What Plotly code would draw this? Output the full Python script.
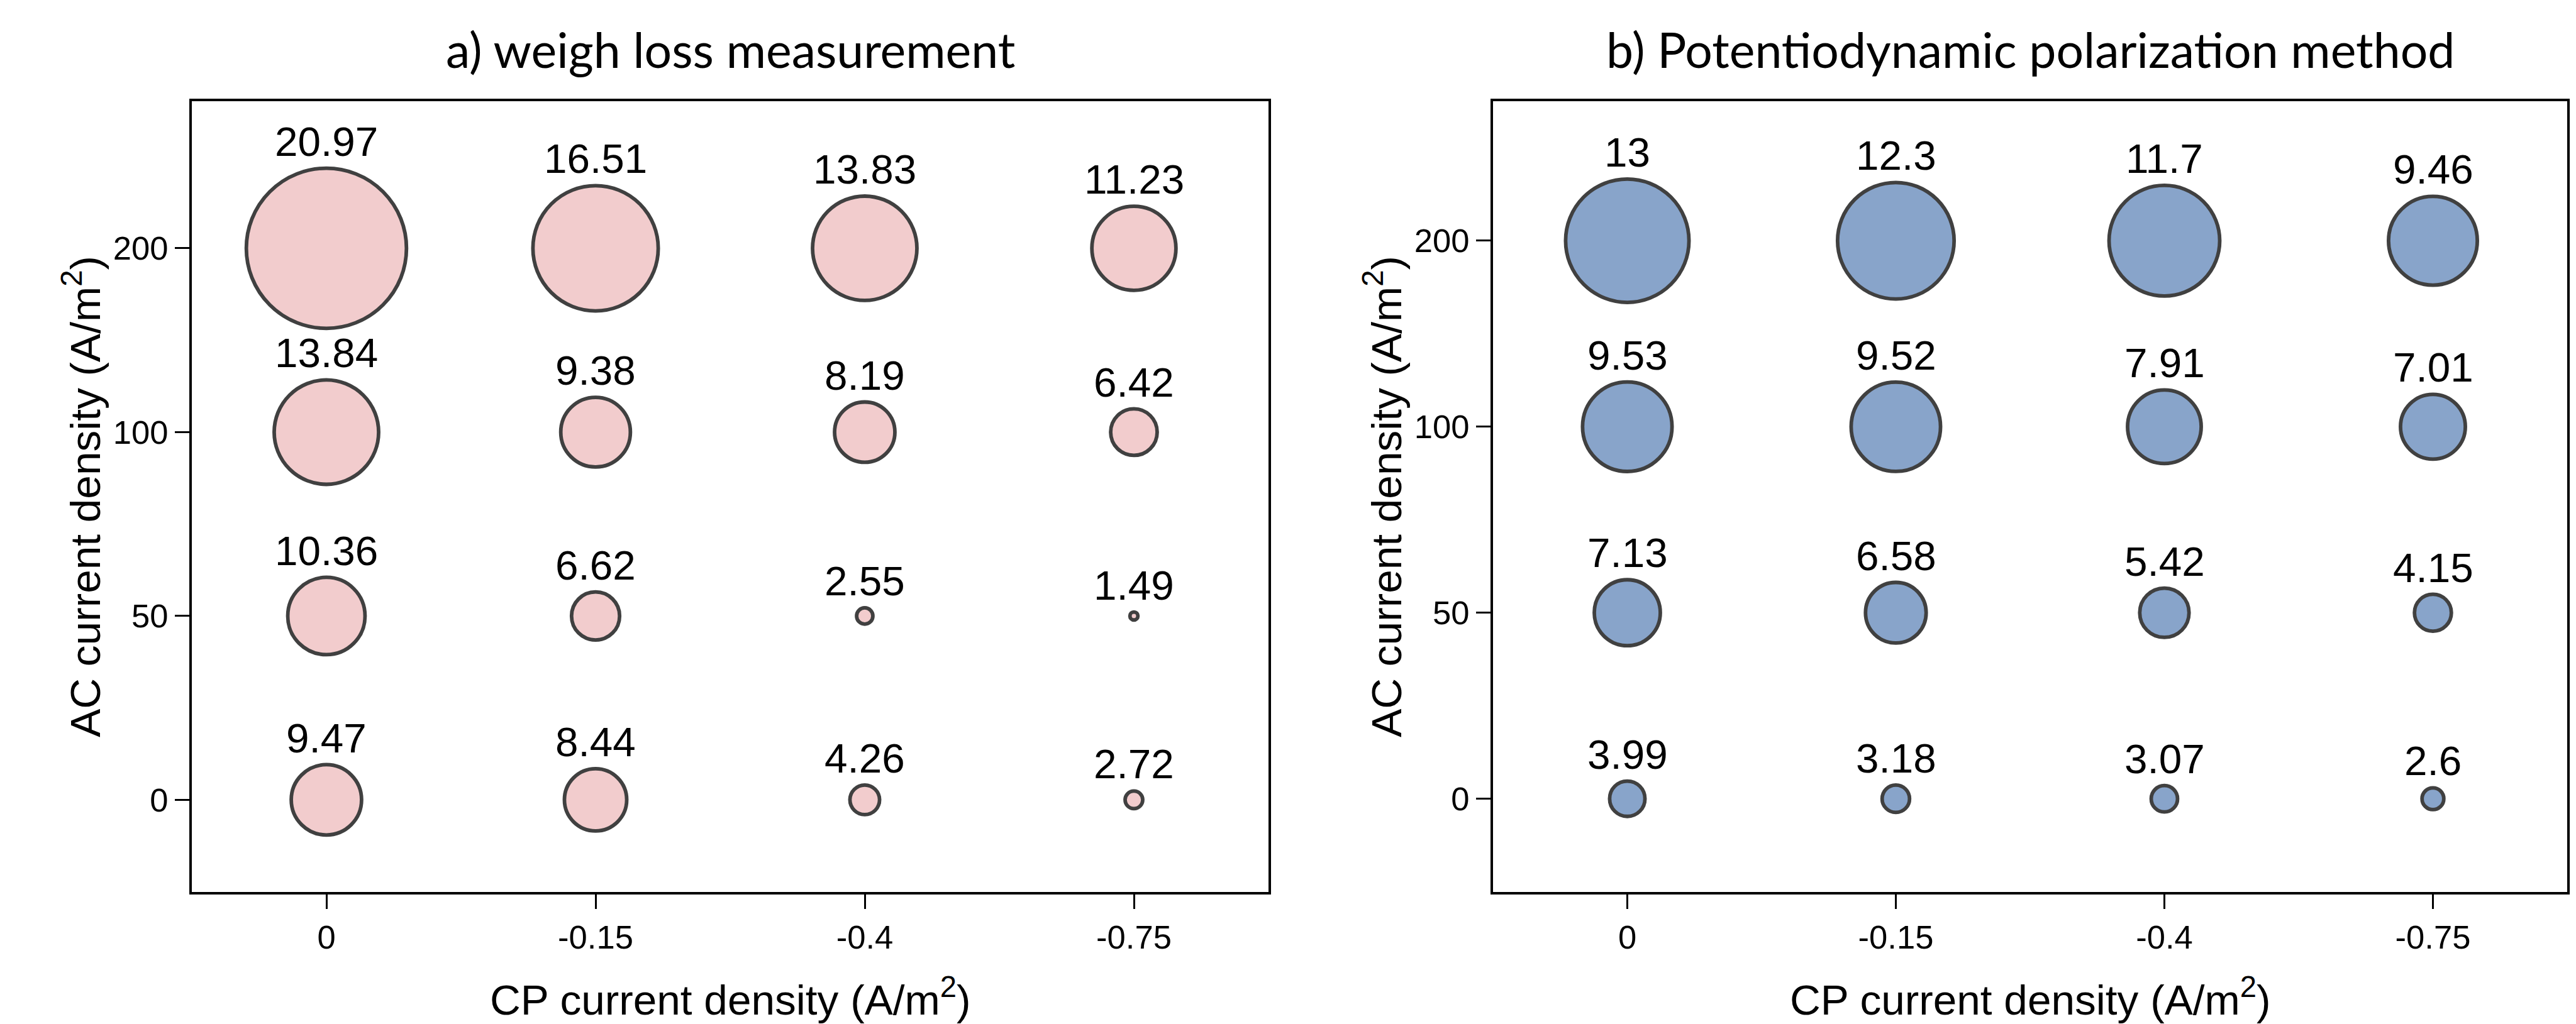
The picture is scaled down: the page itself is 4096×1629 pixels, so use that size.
import plotly.graph_objects as go

# ---- data ----
cp_labels = ["0", "-0.15", "-0.4", "-0.75"]          # CP current density (A/m2)
ac_labels = ["0", "50", "100", "200"]                # AC current density (A/m2)

# rows follow ac_labels order (0, 50, 100, 200); columns follow cp_labels
weight_loss = [
    [9.47, 8.44, 4.26, 2.72],      # AC 0
    [10.36, 6.62, 2.55, 1.49],     # AC 50
    [13.84, 9.38, 8.19, 6.42],     # AC 100
    [20.97, 16.51, 13.83, 11.23],  # AC 200
]
polarization = [
    [3.99, 3.18, 3.07, 2.6],       # AC 0
    [7.13, 6.58, 5.42, 4.15],      # AC 50
    [9.53, 9.52, 7.91, 7.01],      # AC 100
    [13, 12.3, 11.7, 9.46],        # AC 200
]

titles = ["a) weigh loss measurement", "b) Potentiodynamic polarization method"]

# ---- style ----
W, H = 4096, 1629
S = 0.965
LW = 6 * S
LINE_COL = "#404040"
fills = ["#F2CCCD", "#88A4CA"]
px_per_unit = [12.87 * S, 16.1 * S]      # outer diameter per unit value
xdom = [[305 / W, 2017 / W], [2374 / W, 4082 / W]]
ydom = [1 - 1418.6 / H, 1 - 161 / H]
yranges = [[-0.5, 3.8], [-0.5, 3.75]]

TICKFONT = dict(family="Liberation Sans, Arial, sans-serif", size=54.5 * S, color="black")
LABELFONT = dict(family="Liberation Sans, Arial, sans-serif", size=68 * S, color="black")
AXTITLEFONT = dict(family="Liberation Sans, Arial, sans-serif", size=70 * S, color="black")
TITLEFONT = dict(family="Lato, Carlito, Calibri, sans-serif", size=77, color="black")

fig = go.Figure()
annotations = []

for p, data in enumerate([weight_loss, polarization]):
    xs, ys, vals, xi, yi = [], [], [], [], []
    for i, ac in enumerate(ac_labels):
        for j, cp in enumerate(cp_labels):
            xs.append(cp)
            ys.append(ac)
            xi.append(j)
            yi.append(i)
            vals.append(data[i][j])
    sizes = [v * px_per_unit[p] - LW for v in vals]
    xa = "x" if p == 0 else "x2"
    ya = "y" if p == 0 else "y2"
    fig.add_trace(go.Scatter(
        x=xs, y=ys, mode="markers", xaxis=xa, yaxis=ya,
        marker=dict(size=sizes, sizemode="diameter", color=fills[p],
                    line=dict(color=LINE_COL, width=LW), opacity=1),
        showlegend=False, hoverinfo="skip",
    ))
    for x, y, v in zip(xi, yi, vals):
        outer_r = v * px_per_unit[p] / 2
        annotations.append(dict(
            x=x, y=y, xref=xa, yref=ya, text=f"{v:g}", showarrow=False,
            yanchor="bottom", xanchor="center", yshift=outer_r + 1,
            font=LABELFONT,
        ))
    cx = (xdom[p][0] + xdom[p][1]) / 2
    annotations.append(dict(
        x=cx, y=1 - 78 / H, xref="paper", yref="paper", text=titles[p],
        showarrow=False, xanchor="center", yanchor="middle", font=TITLEFONT,
    ))
    annotations.append(dict(
        x=cx, y=1 - 1585 / H, xref="paper", yref="paper",
        text="CP current density (A/m<sup>2</sup>)",
        showarrow=False, xanchor="center", yanchor="middle", font=AXTITLEFONT,
    ))
    annotations.append(dict(
        x=xdom[p][0] - 175 / W, y=(ydom[0] + ydom[1]) / 2, xref="paper", yref="paper",
        text="AC current density (A/m<sup>2</sup>)", textangle=-90,
        showarrow=False, xanchor="center", yanchor="middle", font=AXTITLEFONT,
    ))

axis_common = dict(
    showline=True, mirror=True, linecolor="black", linewidth=4 * S,
    ticks="outside", ticklen=24 * S, tickwidth=3 * S, tickcolor="black",
    showgrid=False, zeroline=False, tickfont=TICKFONT, type="category",
)

fig.update_layout(
    width=W, height=H, margin=dict(l=0, r=0, t=0, b=0),
    paper_bgcolor="white", plot_bgcolor="white",
    annotations=annotations,
    xaxis=dict(domain=xdom[0], range=[-0.5, 3.5], categoryorder="array",
               categoryarray=cp_labels, anchor="y", **axis_common),
    yaxis=dict(domain=ydom, range=yranges[0], categoryorder="array",
               categoryarray=ac_labels, anchor="x", **axis_common),
    xaxis2=dict(domain=xdom[1], range=[-0.5, 3.5], categoryorder="array",
                categoryarray=cp_labels, anchor="y2", **axis_common),
    yaxis2=dict(domain=ydom, range=yranges[1], categoryorder="array",
                categoryarray=ac_labels, anchor="x2", **axis_common),
)

fig.write_html("out.html", config={"displayModeBar": False},
               post_script="document.body.style.margin='0';document.body.style.overflow='hidden';")
